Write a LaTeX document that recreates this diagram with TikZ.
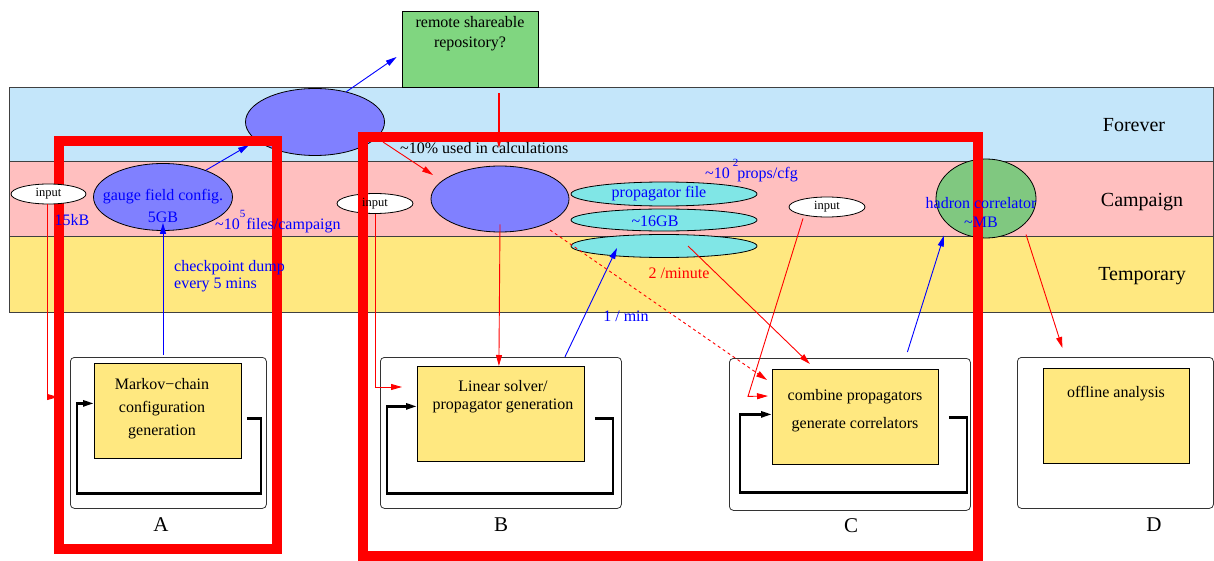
\documentclass[tikz,border=0pt]{standalone}
\usepackage{fontspec}
\setmainfont{Liberation Serif}
\usetikzlibrary{arrows.meta,shapes.geometric,calc}
\definecolor{fcol}{RGB}{196,230,250}
\definecolor{ccol}{RGB}{255,191,191}
\definecolor{tcol}{RGB}{255,232,128}
\definecolor{repocol}{RGB}{128,214,128}
\definecolor{hadcol}{RGB}{128,200,128}
\definecolor{purp}{RGB}{128,128,255}
\definecolor{cyanf}{RGB}{128,230,230}
\definecolor{tblue}{RGB}{0,0,255}
\definecolor{tred}{RGB}{255,0,0}
\begin{document}
\begin{tikzpicture}[x=1pt,y=-1pt,
  band/.style={draw=black!75, line width=0.8pt},
  blob/.style={ellipse, draw=black, line width=0.8pt, inner sep=0pt, fill=purp},
  inp/.style={ellipse, draw=black, line width=0.8pt, inner sep=0pt, fill=white, minimum width=76, minimum height=20},
  rectbox/.style={rectangle, draw=black, line width=0.8pt, inner sep=0pt},
  outerbox/.style={rectangle, draw=black!80, line width=0.8pt, rounded corners=4pt, inner sep=0pt},
  txt/.style={inner sep=0pt, font=\fontsize{16}{20}\selectfont},
  smalltxt/.style={inner sep=0pt, font=\fontsize{12.5}{14}\selectfont},
  bandlbl/.style={inner sep=0pt, font=\fontsize{20}{24}\selectfont},
  letterlbl/.style={inner sep=0pt, font=\fontsize{21}{24}\selectfont},
  arr/.style={-{Triangle[length=11pt,width=6pt]}, line width=0.9pt},
  redarr/.style={arr, draw=tred},
  bluearr/.style={arr, draw=tblue},
  looparr/.style={-{Triangle[length=11pt,width=6pt]}, line width=2.5pt, line join=miter},
  frame/.style={draw=tred, line width=10pt, line join=miter}
]
\useasboundingbox (0,0) rectangle (1214,561);
% bands
\draw[band, fill=fcol] (9,87) rectangle (1213,161);
\draw[band, fill=ccol] (9,161) rectangle (1213,236);
\draw[band, fill=tcol] (9,236) rectangle (1213,312);
\node[bandlbl] (lforever) at (1134,125) {Forever};
\node[bandlbl] (lcampaign) at (1142,202) {Campaign};
\node[bandlbl] (ltemporary) at (1142,276) {Temporary};

% repository
\node[rectbox, fill=repocol, minimum width=136, minimum height=76] (repo) at (470,49) {};

% ellipses
\node[blob, minimum width=139, minimum height=67] (fe) at (315,122) {};
\node[blob, minimum width=139, minimum height=67] (ge) at (163,197) {};
\node[blob, minimum width=138, minimum height=66] (ce) at (500,199) {};
\node[blob, fill=cyanf, minimum width=186, minimum height=24] (cy1) at (664,194) {};
\node[blob, fill=cyanf, minimum width=186, minimum height=22] (cy2) at (664,220) {};
\node[blob, fill=cyanf, minimum width=186, minimum height=23] (cy3) at (664,246) {};
\node[blob, fill=hadcol, minimum width=100, minimum height=79] (he) at (986,198.5) {};
\node[inp] (in2) at (375,203.5) {};
\node[inp] (in3) at (827,207) {};

% process boxes
\node[outerbox, minimum width=196, minimum height=151, anchor=north west] (Ao) at (70,357) {};
\node[rectbox, fill=tcol, minimum width=147, minimum height=95, anchor=north west] (Ai) at (94,363) {};
\node[outerbox, minimum width=241, minimum height=151, anchor=north west] (Bo) at (380,357) {};
\node[rectbox, fill=tcol, minimum width=167, minimum height=95, anchor=north west] (Bi) at (417,366) {};
\node[outerbox, minimum width=241, minimum height=152, anchor=north west] (Co) at (729,358) {};
\node[rectbox, fill=tcol, minimum width=166, minimum height=95, anchor=north west] (Ci) at (772,369) {};
\node[outerbox, minimum width=196, minimum height=151, anchor=north west] (Do) at (1017,357) {};
\node[rectbox, fill=tcol, minimum width=146, minimum height=95, anchor=north west] (Di) at (1043,368) {};

% loops
\draw[looparr] ([shift={(5,7.5)}]Ai.east) -- ++(14,0) -- ++(0,75) -- ++(-184,0) |- ([yshift=7.5]Ai.west);
\draw[looparr] ([shift={(10,4.5)}]Bi.east) -- ++(18,0) -- ++(0,75) -- ++(-226,0) |- ([yshift=7.5]Bi.west);
\draw[looparr] ([shift={(10,0.5)}]Ci.east) -- ++(18,0) -- ++(0,75) -- ++(-227,0) |- ([yshift=2.5]Ci.west);

% connectors
\draw[bluearr] (ge.32) -- ([shift={(-66,23)}]fe.center);
\draw[bluearr] (fe.44) -- ([shift={(-5,8)}]repo.west);
\coordinate (calcin) at (499,148);
\draw[redarr, line width=1.1pt] ([shift={(29,6)}]repo.south) -- (calcin);
\draw[redarr] ([shift={(68,20)}]fe.center) -- ([shift={(-67,-24)}]ce.center);
\draw[bluearr] ([yshift=2]Ao.north -| ge.south) -- ([yshift=8]ge.south);
\draw[redarr] ([yshift=8]ce.south) -- ([xshift=-2]Bi.north);
\draw[bluearr] ([xshift=64]Bo.north) -- ([shift={(-47,2)}]cy3.center);
\draw[redarr, dashed] ([shift={(50,31)}]ce.center) -- ([shift={(-5,11)}]Ci.north west);
\draw[redarr] ([xshift=24]cy3.center) -- ([shift={(-40,6)}]Co.north);
\draw[redarr] ([shift={(-24,1)}]in3.south) -- ++(-55,178) -- ([shift={(-4,27)}]Ci.north west);
\draw[redarr] (in2.south) |- ([shift={(22,30)}]Bo.north west);
\draw[bluearr] ([shift={(57.5,-6)}]Co.north) -- ([shift={(-42,37)}]he.center);
\draw[redarr] ([shift={(40,36)}]he.center) -- ([shift={(-53,-9)}]Do.north);

% red frames
\draw[frame] (59,141) rectangle (277,549);
\draw[frame] (363,137) rectangle (978,556);

% left input (on top of frame)
\node[inp, minimum width=75] (in1) at (48.5,194) {};
\draw[redarr] ([xshift=-1]in1.south) |- ([shift={(-12,40)}]Ao.north west);

% texts
\node[txt, align=center] (repotxt) at (470,33.5) {remote shareable\\repository?};
\node[txt, anchor=west] (calc) at (400,148) {\textasciitilde10\% used in calculations};
\node[txt, text=tblue, align=center, font=\fontsize{16}{22}\selectfont] (getxt) at (163,206) {gauge field config.\\5GB};
\node[txt, text=tblue] (kb) at (72,220.5) {15kB};
\node[txt, text=tblue, anchor=base west] (files) at (215,229.5) {\textasciitilde10\raisebox{12pt}{\fontsize{11}{11}\selectfont 5}\kern1pt files/campaign};
\node[txt, text=tblue, anchor=west, align=left, font=\fontsize{16}{17}\selectfont] (ckpt) at (174,276) {checkpoint dump\\ every 5 mins};
\node[txt, text=tblue, anchor=base west] (props) at (705,178.5) {\textasciitilde10\kern3pt\raisebox{12pt}{\fontsize{11}{11}\selectfont 2}\kern-1pt props/cfg};
\node[txt, text=tblue] (pfile) at (659,193.5) {propagator file};
\node[txt, text=tblue] (gb16) at (655,221.5) {\textasciitilde16GB};
\node[txt, text=tred] (perminute) at (679,273.5) {2 /minute};
\node[txt, text=tblue] (permin) at (626,316.5) {1 / min};
\node[txt, text=tblue, align=center, font=\fontsize{16}{19}\selectfont] (hetxt) at (981,212) {hadron correlator\\\textasciitilde MB};
\node[smalltxt] (in1t) at (in1) {input};
\node[smalltxt] (in2t) at (in2) {input};
\node[smalltxt] (in3t) at (in3) {input};

\node[txt, align=center, font=\fontsize{16}{23}\selectfont] (Atxt) at (162,408.5) {Markov−chain\\configuration\\generation};
\node[txt, align=center, font=\fontsize{16}{18}\selectfont] (Btxt) at (503,397) {Linear solver/\\propagator generation};
\node[txt, align=center, font=\fontsize{16}{28}\selectfont] (Ctxt) at (855,411) {combine propagators\\generate correlators};
\node[txt] (Dtxt) at (1116,393.5) {offline analysis};

\node[letterlbl] (lA) at (161,525) {A};
\node[letterlbl] (lB) at (501,525) {B};
\node[letterlbl] (lC) at (851,526) {C};
\node[letterlbl] (lD) at (1154,525) {D};
\end{tikzpicture}
\end{document}
